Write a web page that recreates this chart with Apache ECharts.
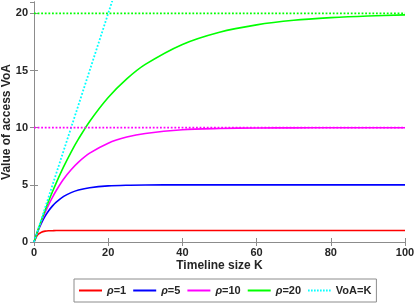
<!DOCTYPE html>
<html><head><meta charset="utf-8">
<script src="https://cdn.jsdelivr.net/npm/echarts@6/dist/echarts.min.js"></script>
<style>html,body{margin:0;padding:0;background:#fff}#c{width:415px;height:303px}</style>
</head><body><div id="c"></div>
<script>
const kValues = [0,1,2,3,4,5,6,8,10,12,15,20,25,30,40,50,60,70,80,90,100];
const rho1  = [0,0.63,0.86,0.95,0.98,0.99,1.0,1.0,1.0,1.0,1.0,1.0,1.0,1.0,1.0,1.0,1.0,1.0,1.0,1.0,1.0];
const rho5  = [0,0.91,1.65,2.26,2.75,3.16,3.49,3.99,4.32,4.55,4.75,4.91,4.97,4.99,5.0,5.0,5.0,5.0,5.0,5.0,5.0];
const rho10 = [0,0.95,1.81,2.59,3.30,3.93,4.51,5.51,6.32,6.99,7.77,8.65,9.18,9.50,9.82,9.93,9.98,9.99,10.0,10.0,10.0];
const rho20 = [0,0.98,1.90,2.79,3.63,4.42,5.18,6.59,7.87,9.02,10.55,12.64,14.27,15.54,17.29,18.36,19.0,19.4,19.63,19.78,19.87];
const voaK = [[0,0],[25,25]];
const limit10 = [[0,10],[100,10]];
const limit20 = [[0,20],[100,20]];
const legendNames = ['ρ=1','ρ=5','ρ=10','ρ=20','VoA=K'];
const colors = ['#ff0000','#0000ff','#ff00ff','#00ff00','#00ffff'];

const pair = arr => kValues.map((k,i)=>[k,arr[i]]);
const chart = echarts.init(document.getElementById('c'));
const axisCol = '#8c8c8c';
const font = 'Liberation Sans, Arial';
const lbl = {color:'#262626', fontSize:11, fontWeight:'bold', fontFamily:font};
function mk(name, data, color, type, width){
  return {name, type:'line', data, symbol:'none', smooth: type==='solid' ? 0.3 : false,
    lineStyle:{color, width, type}, itemStyle:{color}, clip:true, animation:false};
}
let dots = '';
for (let x = 0; x < 24; x += 3) dots += 'M' + x + ',0h1.6v2h-1.6z';
const legendData = legendNames.map((n,i) => ({name:n,
  icon: i === 4 ? 'path://' + dots : 'rect'}));
chart.setOption({
  animation:false,
  grid:{left:34, right:10, top:2, bottom:61, containLabel:false, outerBoundsMode:'none'},
  xAxis:[{type:'value', min:0, max:100, interval:20,
    axisLine:{onZero:false, lineStyle:{color:axisCol}}, axisTick:{inside:true, length:4, lineStyle:{color:axisCol}},
    axisLabel:Object.assign({margin:5}, lbl), splitLine:{show:false},
    name:'Timeline size K', nameLocation:'middle', nameGap:18, nameMoveOverlap:false,
    nameTextStyle:{color:'#262626', fontSize:12, fontWeight:'bold', fontFamily:font}},
   {type:'value', position:'top', min:0, max:100, interval:20,
    axisLine:{lineStyle:{color:axisCol}}, axisTick:{inside:true, length:4, lineStyle:{color:axisCol}},
    axisLabel:{show:false}, splitLine:{show:false}}],
  yAxis:[{type:'value', min:0, max:21, interval:5,
    axisLine:{onZero:false, lineStyle:{color:axisCol}}, axisTick:{inside:true, length:4, lineStyle:{color:axisCol}},
    axisLabel:Object.assign({margin:6, showMaxLabel:false}, lbl), splitLine:{show:false},
    name:'Value of access VoA', nameLocation:'middle', nameGap:21, nameMoveOverlap:false,
    nameTextStyle:{color:'#262626', fontSize:12, fontWeight:'bold', fontFamily:font}},
   {type:'value', position:'right', min:0, max:21, interval:5,
    axisLine:{lineStyle:{color:axisCol}}, axisTick:{inside:true, length:4, lineStyle:{color:axisCol}},
    axisLabel:{show:false}, splitLine:{show:false}}],
  legend:{data:legendData, bottom:1, left:74, itemWidth:23, itemHeight:2, itemGap:7,
    padding:[6,5,6,5], borderColor:'#8c8c8c', borderWidth:1, backgroundColor:'#fff',
    formatter: n => n.startsWith('ρ') ? '{i|ρ}{b|' + n.slice(1) + '}' : '{b|' + n + '}',
    textStyle:{color:'#262626', fontSize:11, fontWeight:'bold', fontFamily:font,
      rich:{i:{fontStyle:'italic', fontWeight:'bold', fontSize:11, fontFamily:font, color:'#262626'},
            b:{fontWeight:'bold', fontSize:11, fontFamily:font, color:'#262626'}}}},
  series:[
    mk('ρ=1', pair(rho1), colors[0], 'solid', 1.6),
    mk('ρ=5', pair(rho5), colors[1], 'solid', 1.6),
    mk('ρ=10', pair(rho10), colors[2], 'solid', 1.6),
    mk('ρ=20', pair(rho20), colors[3], 'solid', 1.6),
    mk('VoA=K', voaK, colors[4], 'dotted', 1.8),
    mk('lim10', limit10, colors[2], 'dotted', 1.8),
    mk('lim20', limit20, colors[3], 'dotted', 1.8)
  ]
});
</script></body></html>
